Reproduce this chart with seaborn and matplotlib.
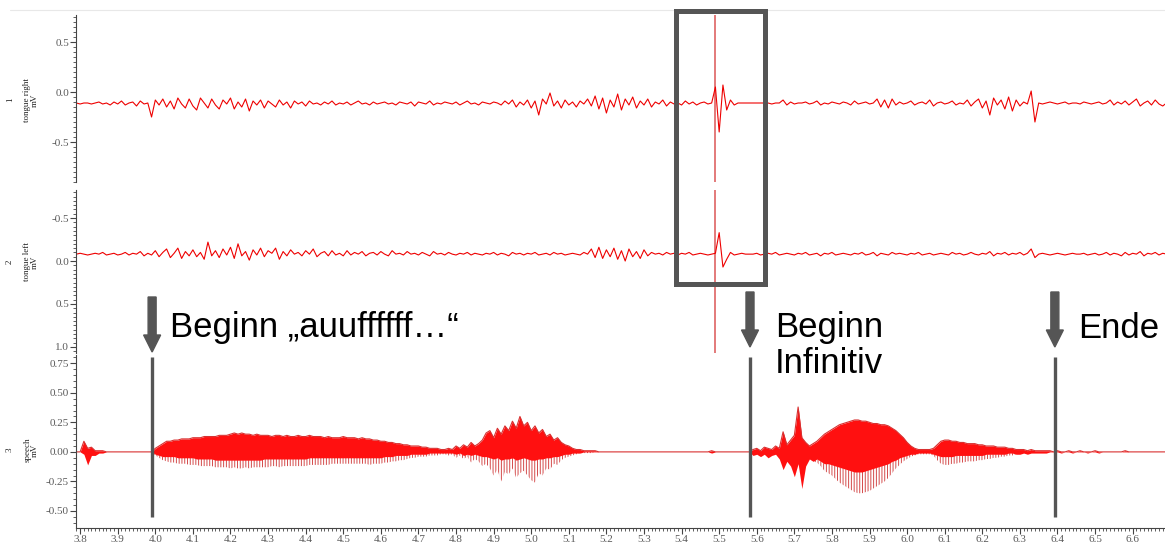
import numpy as np
import matplotlib
matplotlib.use("Agg")
import matplotlib.pyplot as plt
import seaborn as sns
from matplotlib.patches import Rectangle, FancyArrow
from matplotlib.lines import Line2D
from matplotlib.transforms import IdentityTransform
from matplotlib.ticker import MultipleLocator, FormatStrFormatter

# time axis in s, one reading every 10 ms (3.79 ... 6.69)
t = np.round(3.79 + 0.01 * np.arange(291), 2)

# channel 1: tongue right (mV)
tongue_right = [
    -0.11, -0.12, -0.11, -0.11, -0.12, -0.11, -0.10, -0.12, -0.11, -0.13,
    -0.10, -0.12, -0.09, -0.13, -0.11, -0.10, -0.14, -0.09, -0.12, -0.11,
    -0.25, -0.08, -0.13, -0.07, -0.15, -0.09, -0.17, -0.06, -0.12, -0.16,
    -0.07, -0.14, -0.18, -0.06, -0.11, -0.16, -0.07, -0.13, -0.17, -0.08,
    -0.12, -0.06, -0.17, -0.10, -0.15, -0.07, -0.19, -0.09, -0.13, -0.08,
    -0.16, -0.09, -0.12, -0.15, -0.08, -0.13, -0.10, -0.16, -0.09, -0.12,
    -0.10, -0.14, -0.09, -0.12, -0.11, -0.13, -0.10, -0.12, -0.09, -0.13,
    -0.11, -0.12, -0.10, -0.13, -0.11, -0.09, -0.12, -0.11, -0.13, -0.10,
    -0.12, -0.11, -0.10, -0.12, -0.11, -0.13, -0.10, -0.11, -0.12, -0.10,
    -0.14, -0.10, -0.11, -0.12, -0.09, -0.13, -0.11, -0.12, -0.10, -0.11,
    -0.12, -0.10, -0.13, -0.11, -0.09, -0.12, -0.11, -0.13, -0.10, -0.11,
    -0.12, -0.10, -0.11, -0.13, -0.09, -0.12, -0.08, -0.15, -0.10, -0.13,
    -0.08, -0.16, -0.09, -0.23, -0.07, -0.12, -0.01, -0.14, -0.09, -0.16,
    -0.08, -0.13, -0.10, -0.15, -0.09, -0.12, -0.07, -0.14, -0.04, -0.17,
    -0.06, -0.21, -0.08, -0.15, -0.02, -0.18, -0.07, -0.13, -0.05, -0.16,
    -0.09, -0.13, -0.07, -0.15, -0.10, -0.12, -0.08, -0.14, -0.10, -0.12,
    -0.11, -0.13, -0.09, -0.12, -0.10, -0.13, -0.11, -0.10, -0.12, -0.11,
    0.05, -0.40, 0.07, -0.18, -0.08, -0.13, -0.11, -0.11, -0.11, -0.11,
    -0.11, -0.11, -0.11, -0.11, -0.11, -0.12, -0.11, -0.11, -0.08, -0.13,
    -0.10, -0.12, -0.11, -0.11, -0.10, -0.12, -0.11, -0.09, -0.13, -0.11,
    -0.12, -0.10, -0.11, -0.12, -0.10, -0.11, -0.13, -0.09, -0.12, -0.11,
    -0.10, -0.12, -0.11, -0.07, -0.15, -0.08, -0.16, -0.07, -0.13, -0.10,
    -0.12, -0.11, -0.09, -0.13, -0.11, -0.10, -0.12, -0.08, -0.14, -0.11,
    -0.10, -0.12, -0.11, -0.09, -0.13, -0.11, -0.12, -0.08, -0.14, -0.10,
    -0.07, -0.16, -0.09, -0.23, -0.06, -0.13, -0.08, -0.17, -0.05, -0.19,
    -0.08, -0.14, -0.10, -0.12, 0.01, -0.30, -0.11, -0.12, -0.11, -0.10,
    -0.11, -0.12, -0.11, -0.10, -0.12, -0.11, -0.11, -0.12, -0.10, -0.11,
    -0.12, -0.11, -0.10, -0.12, -0.11, -0.08, -0.13, -0.10, -0.12, -0.09,
    -0.13, -0.10, -0.07, -0.14, -0.11, -0.09, -0.13, -0.08, -0.12, -0.14,
    -0.11,
]

# channel 2: tongue left (mV), shown on an inverted axis
tongue_left = [
    -0.08, -0.09, -0.08, -0.07, -0.08, -0.09, -0.08, -0.10, -0.07, -0.08,
    -0.09, -0.07, -0.08, -0.10, -0.07, -0.09, -0.08, -0.11, -0.06, -0.09,
    -0.07, -0.12, -0.05, -0.10, -0.14, -0.04, -0.09, -0.15, -0.03, -0.11,
    -0.06, -0.13, -0.05, -0.10, -0.02, -0.22, -0.06, -0.12, -0.04, -0.14,
    -0.07, -0.16, -0.03, -0.20, -0.06, -0.11, -0.01, -0.13, -0.07, -0.15,
    -0.05, -0.12, -0.09, -0.15, -0.02, -0.11, -0.06, -0.13, -0.08, -0.10,
    -0.06, -0.12, -0.08, -0.14, -0.05, -0.09, -0.11, -0.06, -0.12, -0.07,
    -0.09, -0.06, -0.12, -0.07, -0.10, -0.08, -0.11, -0.06, -0.09, -0.10,
    -0.07, -0.11, -0.08, -0.06, -0.12, -0.08, -0.09, -0.07, -0.11, -0.08,
    -0.09, -0.07, -0.10, -0.08, -0.06, -0.11, -0.08, -0.09, -0.07, -0.10,
    -0.08, -0.07, -0.09, -0.08, -0.10, -0.07, -0.09, -0.08, -0.07, -0.09,
    -0.08, -0.10, -0.07, -0.09, -0.08, -0.06, -0.10, -0.08, -0.09, -0.07,
    -0.09, -0.08, -0.10, -0.07, -0.08, -0.09, -0.07, -0.10, -0.08, -0.09,
    -0.07, -0.08, -0.09, -0.08, -0.07, -0.10, -0.08, -0.14, -0.04, -0.16,
    -0.03, -0.13, -0.05, -0.15, -0.02, -0.12, 0.00, -0.14, -0.05, -0.11,
    -0.03, -0.13, -0.06, -0.10, -0.08, -0.09, -0.07, -0.10, -0.08, -0.09,
    -0.07, -0.09, -0.08, -0.10, -0.07, -0.08, -0.09, -0.08, -0.07, -0.08,
    -0.09, -0.33, 0.07, -0.02, -0.10, -0.07, -0.08, -0.09, -0.08, -0.08,
    -0.08, -0.09, -0.07, -0.08, -0.09, -0.08, -0.10, -0.07, -0.08, -0.09,
    -0.08, -0.07, -0.09, -0.08, -0.10, -0.07, -0.08, -0.09, -0.06, -0.09,
    -0.08, -0.10, -0.07, -0.08, -0.09, -0.08, -0.07, -0.09, -0.08, -0.10,
    -0.07, -0.08, -0.10, -0.06, -0.09, -0.08, -0.07, -0.10, -0.08, -0.09,
    -0.08, -0.07, -0.09, -0.08, -0.10, -0.07, -0.08, -0.09, -0.07, -0.08,
    -0.09, -0.08, -0.07, -0.10, -0.08, -0.09, -0.07, -0.08, -0.10, -0.08,
    -0.07, -0.09, -0.08, -0.11, -0.06, -0.09, -0.08, -0.10, -0.07, -0.09,
    -0.08, -0.10, -0.07, -0.09, -0.14, -0.04, -0.08, -0.09, -0.08, -0.07,
    -0.08, -0.09, -0.08, -0.07, -0.08, -0.09, -0.08, -0.08, -0.09, -0.07,
    -0.08, -0.09, -0.07, -0.08, -0.10, -0.07, -0.09, -0.08, -0.06, -0.10,
    -0.07, -0.09, -0.08, -0.11, -0.06, -0.09, -0.08, -0.10, -0.07, -0.09,
    -0.08,
]

# channel 3: speech (mV), upper / lower envelope of the waveform and the
# lower edge of its dense (solid) part
speech_hi = [
    0, 0, 0.09, 0.03, 0.04, 0.01, 0.01, 0.01, 0, 0,
    0, 0, 0, 0, 0, 0, 0, 0, 0, 0,
    0, 0.03, 0.05, 0.07, 0.09, 0.09, 0.10, 0.10, 0.11, 0.11,
    0.11, 0.12, 0.12, 0.12, 0.13, 0.13, 0.13, 0.13, 0.14, 0.14,
    0.14, 0.15, 0.16, 0.15, 0.16, 0.15, 0.15, 0.14, 0.15, 0.14,
    0.14, 0.14, 0.13, 0.14, 0.14, 0.13, 0.14, 0.13, 0.13, 0.14,
    0.13, 0.13, 0.14, 0.13, 0.13, 0.13, 0.12, 0.13, 0.12, 0.12,
    0.12, 0.13, 0.12, 0.12, 0.12, 0.11, 0.12, 0.11, 0.11, 0.10,
    0.10, 0.09, 0.09, 0.08, 0.08, 0.07, 0.07, 0.06, 0.06, 0.05,
    0.05, 0.05, 0.04, 0.04, 0.03, 0.03, 0.03, 0.02, 0.02, 0.03,
    0.02, 0.05, 0.03, 0.06, 0.04, 0.08, 0.05, 0.07, 0.10, 0.16,
    0.18, 0.12, 0.20, 0.15, 0.22, 0.18, 0.26, 0.20, 0.30, 0.22,
    0.25, 0.18, 0.22, 0.16, 0.19, 0.13, 0.15, 0.10, 0.12, 0.08,
    0.06, 0.05, 0.03, 0.02, 0.02, 0.01, 0.01, 0.01, 0.01, 0,
    0, 0, 0, 0, 0, 0, 0, 0, 0, 0,
    0, 0, 0, 0, 0, 0, 0, 0, 0, 0,
    0, 0, 0, 0, 0, 0, 0, 0, 0, 0.01,
    0, 0, 0, 0, 0, 0, 0, 0, 0, 0,
    0.02, 0.03, 0.01, 0.04, 0.03, 0.02, 0.05, 0.03, 0.17, 0.06,
    0.10, 0.14, 0.38, 0.12, 0.08, 0.05, 0.07, 0.09, 0.12, 0.15,
    0.17, 0.19, 0.21, 0.23, 0.24, 0.25, 0.26, 0.27, 0.27, 0.26,
    0.26, 0.25, 0.24, 0.24, 0.23, 0.23, 0.22, 0.20, 0.18, 0.15,
    0.12, 0.08, 0.05, 0.03, 0.02, 0.02, 0.02, 0.02, 0.03, 0.06,
    0.09, 0.10, 0.10, 0.09, 0.09, 0.08, 0.08, 0.07, 0.07, 0.07,
    0.06, 0.06, 0.05, 0.05, 0.05, 0.04, 0.04, 0.04, 0.03, 0.03,
    0.02, 0.02, 0.02, 0.01, 0.02, 0.01, 0.01, 0.01, 0.01, 0.01,
    0, 0.01, 0, 0, 0.01, 0, 0, 0.01, 0, 0,
    0, 0.01, 0, 0, 0, 0, 0, 0, 0, 0.01,
    0, 0, 0, 0, 0, 0, 0, 0, 0, 0,
    0,
]
speech_lo = [
    0, 0, -0.02, -0.11, -0.03, -0.03, -0.01, -0.01, 0, 0,
    0, 0, 0, 0, 0, 0, 0, 0, 0, 0,
    0, -0.03, -0.05, -0.07, -0.08, -0.09, -0.09, -0.10, -0.10, -0.10,
    -0.11, -0.11, -0.11, -0.12, -0.12, -0.12, -0.12, -0.13, -0.13, -0.13,
    -0.13, -0.14, -0.13, -0.14, -0.14, -0.13, -0.14, -0.13, -0.13, -0.13,
    -0.13, -0.13, -0.12, -0.12, -0.13, -0.12, -0.12, -0.12, -0.12, -0.12,
    -0.12, -0.12, -0.11, -0.11, -0.11, -0.11, -0.11, -0.11, -0.10, -0.10,
    -0.10, -0.10, -0.10, -0.10, -0.10, -0.10, -0.10, -0.10, -0.11, -0.10,
    -0.10, -0.10, -0.09, -0.09, -0.08, -0.08, -0.07, -0.07, -0.06, -0.05,
    -0.05, -0.04, -0.04, -0.04, -0.03, -0.03, -0.03, -0.02, -0.02, -0.03,
    -0.02, -0.05, -0.03, -0.06, -0.04, -0.09, -0.06, -0.08, -0.12, -0.10,
    -0.14, -0.20, -0.15, -0.25, -0.17, -0.19, -0.14, -0.22, -0.18, -0.16,
    -0.20, -0.24, -0.26, -0.18, -0.20, -0.14, -0.15, -0.10, -0.11, -0.07,
    -0.05, -0.04, -0.03, -0.02, -0.01, -0.01, -0.01, -0.01, 0, 0,
    0, 0, 0, 0, 0, 0, 0, 0, 0, 0,
    0, 0, 0, 0, 0, 0, 0, 0, 0, 0,
    0, 0, 0, 0, 0, 0, 0, 0, 0, -0.01,
    0, 0, 0, 0, 0, 0, 0, 0, 0, 0,
    -0.03, -0.02, -0.04, -0.02, -0.05, -0.03, -0.02, -0.06, -0.15, -0.08,
    -0.12, -0.21, -0.10, -0.31, -0.12, -0.06, -0.08, -0.09, -0.12, -0.16,
    -0.18, -0.20, -0.23, -0.26, -0.28, -0.30, -0.32, -0.34, -0.35, -0.35,
    -0.34, -0.33, -0.31, -0.29, -0.27, -0.25, -0.22, -0.18, -0.14, -0.11,
    -0.08, -0.06, -0.04, -0.03, -0.02, -0.02, -0.02, -0.02, -0.03, -0.07,
    -0.10, -0.11, -0.11, -0.10, -0.10, -0.09, -0.09, -0.08, -0.08, -0.08,
    -0.07, -0.07, -0.06, -0.06, -0.05, -0.05, -0.04, -0.04, -0.03, -0.03,
    -0.02, -0.02, -0.01, -0.02, -0.01, -0.01, -0.01, -0.01, -0.01, 0,
    0, 0, -0.01, 0, 0, -0.01, 0, 0, 0, -0.01,
    0, 0, -0.01, 0, 0, 0, 0, 0, 0, 0,
    0, 0, 0, 0, 0, 0, 0, 0, 0, 0,
    0,
]
speech_core = [
    0, 0, -0.02, -0.11, -0.03, -0.03, -0.01, -0.01, 0, 0,
    0, 0, 0, 0, 0, 0, 0, 0, 0, 0,
    0, -0.02, -0.03, -0.04, -0.04, -0.04, -0.04, -0.05, -0.05, -0.05,
    -0.05, -0.05, -0.06, -0.06, -0.06, -0.06, -0.06, -0.07, -0.07, -0.07,
    -0.07, -0.07, -0.07, -0.07, -0.07, -0.07, -0.07, -0.07, -0.07, -0.07,
    -0.06, -0.06, -0.06, -0.06, -0.06, -0.06, -0.06, -0.06, -0.06, -0.06,
    -0.06, -0.06, -0.05, -0.05, -0.05, -0.05, -0.05, -0.05, -0.05, -0.05,
    -0.05, -0.05, -0.05, -0.05, -0.05, -0.05, -0.05, -0.05, -0.05, -0.05,
    -0.05, -0.05, -0.04, -0.04, -0.04, -0.03, -0.03, -0.03, -0.03, -0.02,
    -0.02, -0.02, -0.02, -0.02, -0.01, -0.01, -0.01, -0.01, -0.01, -0.01,
    -0.01, -0.02, -0.01, -0.03, -0.02, -0.03, -0.02, -0.03, -0.04, -0.04,
    -0.05, -0.06, -0.05, -0.07, -0.06, -0.06, -0.05, -0.07, -0.06, -0.05,
    -0.06, -0.07, -0.07, -0.06, -0.06, -0.05, -0.05, -0.04, -0.04, -0.03,
    -0.02, -0.02, -0.01, -0.01, -0.01, 0, 0, 0, 0, 0,
    0, 0, 0, 0, 0, 0, 0, 0, 0, 0,
    0, 0, 0, 0, 0, 0, 0, 0, 0, 0,
    0, 0, 0, 0, 0, 0, 0, 0, 0, -0.01,
    0, 0, 0, 0, 0, 0, 0, 0, 0, 0,
    -0.03, -0.02, -0.04, -0.02, -0.05, -0.03, -0.02, -0.06, -0.15, -0.08,
    -0.12, -0.21, -0.10, -0.31, -0.12, -0.06, -0.08, -0.06, -0.08, -0.10,
    -0.10, -0.11, -0.12, -0.13, -0.14, -0.15, -0.16, -0.17, -0.17, -0.17,
    -0.16, -0.15, -0.14, -0.13, -0.12, -0.11, -0.10, -0.08, -0.07, -0.05,
    -0.04, -0.03, -0.02, -0.02, -0.01, -0.01, -0.01, -0.01, -0.02, -0.03,
    -0.04, -0.04, -0.04, -0.04, -0.03, -0.03, -0.03, -0.03, -0.03, -0.03,
    -0.03, -0.03, -0.02, -0.02, -0.02, -0.02, -0.02, -0.02, -0.01, -0.01,
    -0.02, -0.02, -0.01, -0.02, -0.01, -0.01, -0.01, -0.01, -0.01, 0,
    0, 0, -0.01, 0, 0, -0.01, 0, 0, 0, -0.01,
    0, 0, -0.01, 0, 0, 0, 0, 0, 0, 0,
    0, 0, 0, 0, 0, 0, 0, 0, 0, 0,
    0,
]

channel_labels = ["tongue right\nmV", "tongue left\nmV", "speech\nmV"]
artifact_t = 5.489                      # stimulation artefact in EMG channels
marker_t = [3.9915, 5.582, 6.393]       # Beginn / Beginn Infinitiv / Ende
marker_text = ["Beginn „auuffffff…“", "Beginn\nInfinitiv", "Ende"]

W, H = 1165, 551
RED = "#ee0000"
GRAY = "#555555"

sns.set_style("ticks")
plt.rcParams["axes.unicode_minus"] = False
plt.rcParams["hatch.linewidth"] = 0.7
serif = ["Liberation Serif", "DejaVu Serif"]
sans = ["Liberation Sans", "DejaVu Sans"]

fig = plt.figure(figsize=(W / 100, H / 100), dpi=100)


def box(top, bottom):
    return [76 / W, 1 - bottom / H, 1 - 76 / W, (bottom - top) / H]


ax1 = fig.add_axes(box(15, 182))
ax2 = fig.add_axes(box(190, 353))
ax3 = fig.add_axes(box(355, 528))

sns.lineplot(x=t, y=tongue_right, ax=ax1, color=RED, linewidth=0.8, estimator=None)
sns.lineplot(x=t, y=tongue_left, ax=ax2, color=RED, linewidth=0.8, estimator=None)
for ax in (ax1, ax2):
    ax.axvline(artifact_t, color="#e07070", linewidth=1.3, zorder=1)

ax3.fill_between(t, speech_lo, speech_core, facecolor="none", edgecolor="#d44a4a",
                 linewidth=0, hatch="||||||")
ax3.fill_between(t, speech_core, speech_hi, color="#ff1010", linewidth=0)
sns.lineplot(x=t, y=speech_hi, ax=ax3, color="#d83030", linewidth=0.8, estimator=None)
ax3.vlines(marker_t, -0.55, 0.80, color=GRAY, linewidth=2.4, zorder=5)

ax1.set_ylim(-0.90, 0.77)
ax2.set_ylim(1.07, -0.826)
ax3.set_ylim(-0.644, 0.82)

for ax, major, fmt in ((ax1, 0.5, "%.1f"), (ax2, 0.5, "%.1f"), (ax3, 0.25, "%.2f")):
    ax.set_xlim(3.789, 6.686)
    ax.yaxis.set_major_locator(MultipleLocator(major))
    ax.yaxis.set_minor_locator(MultipleLocator(0.05))
    ax.yaxis.set_major_formatter(FormatStrFormatter(fmt))
    ax.xaxis.set_major_locator(MultipleLocator(0.1))
    ax.xaxis.set_minor_locator(MultipleLocator(0.01))
    ax.xaxis.set_major_formatter(FormatStrFormatter("%.1f"))
    ax.set_facecolor("none")
    for s in ("top", "right"):
        ax.spines[s].set_visible(False)
    ax.spines["left"].set_color("#444444")
    ax.spines["bottom"].set_color("#444444")
    ax.tick_params(which="major", length=4, width=0.8, color="#444444",
                   labelsize=8, labelcolor="#5a5a5a", pad=1)
    ax.tick_params(which="minor", length=2, width=0.6, color="#444444")
    for lab in ax.get_xticklabels() + ax.get_yticklabels():
        lab.set_family(serif)
    ax.set_xlabel("")
    ax.set_ylabel("")

for ax in (ax1, ax2):
    ax.spines["bottom"].set_visible(False)
    ax.tick_params(axis="x", which="both", bottom=False, labelbottom=False)

# channel names on the left
for i, (lab, ypx) in enumerate(zip(channel_labels, [100, 262, 450])):
    fig.text(31 / W, 1 - ypx / H, lab, rotation=90, ha="center", va="center",
             multialignment="center", fontsize=6.5, family=serif, color="#222222",
             linespacing=0.9)
    fig.text(10 / W, 1 - ypx / H, str(i + 1), rotation=90, ha="center", va="center",
             fontsize=6.5, family=serif, color="#222222")

# window border at the top
fig.add_artist(Line2D([10 / W, 1], [1 - 10 / H, 1 - 10 / H], color="#e8e8e8",
                      linewidth=0.8))

# highlight box around the artefact
fig.add_artist(Rectangle((675.5, H - 283.5), 89, 273, fill=False, edgecolor=GRAY,
                         linewidth=3.6, transform=IdentityTransform(), zorder=10))

# arrows and labels for the speech events
arrow_top = [297, 292, 292]
arrow_tip = [352, 347, 347]
text_x = [170, 775, 1078]
text_base = [337, 373, 338]
for tm, top, tip, tx, tb, txt in zip(marker_t, arrow_top, arrow_tip, text_x,
                                    text_base, marker_text):
    xpx = ax3.transData.transform((tm, 0))[0]
    fig.add_artist(FancyArrow(xpx, H - top, 0, -(tip - top), width=8, head_width=17,
                              head_length=17, length_includes_head=True,
                              color=GRAY, transform=IdentityTransform(), zorder=10))
    fig.text(tx / W, 1 - tb / H, txt, fontsize=25, family=sans, color="black",
             va="baseline", ha="left", linespacing=1.12)

fig.savefig("out.png", dpi=100)
